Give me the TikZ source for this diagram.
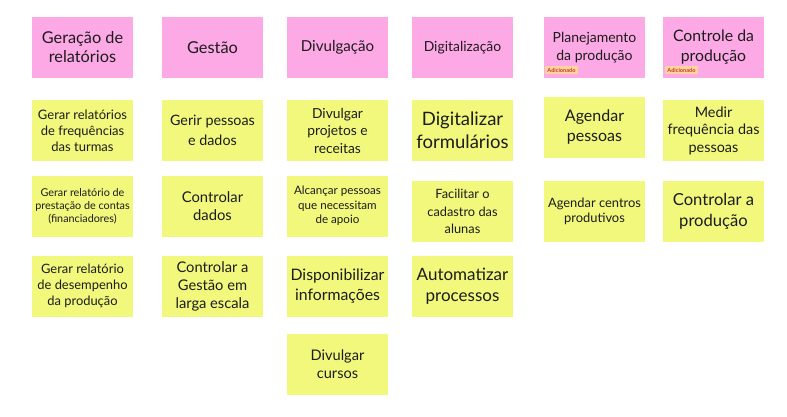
\documentclass[tikz,border=0pt]{standalone}
\usepackage{fontspec}
\setmainfont{Lato}
\definecolor{notepink}{HTML}{FDA9E6}
\definecolor{noteyel}{HTML}{F1F87C}
\definecolor{notetext}{HTML}{1C1C1C}
\definecolor{tagbg}{HTML}{FFD3A0}
\definecolor{tagtext}{HTML}{C8402A}
\newcommand{\fs}[2]{\fontsize{#1}{#2}\selectfont}
\tikzset{
  note/.style={rectangle, minimum width=101pt, minimum height=61pt, inner sep=1pt, align=center, text=notetext},
  pinknote/.style={note, fill=notepink},
  yelnote/.style={note, fill=noteyel},
  tag/.style={rectangle, fill=tagbg, text=tagtext, rounded corners=1pt, inner sep=0.8pt, minimum width=33pt, minimum height=8pt, font=\fs{5.6}{6}\bfseries}
}
\begin{document}
\begin{tikzpicture}[x=1pt,y=1pt]
\useasboundingbox[fill=white] (0,0) rectangle (787,-416);
% header notes
\node[pinknote, font=\fs{16.3}{19}] (h1) at (82.5,-47.5) {Geração de\\relatórios};
\node[pinknote, font=\fs{16.4}{19}] (h2) at (212.5,-47.5) {Gestão};
\node[pinknote, font=\fs{15.1}{18}] (h3) at (337.5,-47.5) {Divulgação};
\node[pinknote, font=\fs{13.9}{16}] (h4) at (462.5,-47.5) {Digitalização};
\node[pinknote, font=\fs{14}{18}] (h5) at (594.5,-47.5) {Planejamento\\da produção};
\node[pinknote, font=\fs{15.8}{20}] (h6) at (713.5,-47.5) {Controle da\\produção};
\node[tag] (t5) at (561.5,-70) {Adicionado};
\node[tag] (t6) at (681.5,-70) {Adicionado};
% row 1
\node[yelnote, font=\fs{13}{16}] (a1) at (82.5,-130.5) {Gerar relatórios\\de frequências\\das turmas};
\node[yelnote, font=\fs{14.3}{20}] (a2) at (212.5,-130.5) {Gerir pessoas\\e dados};
\node[yelnote, font=\fs{13.8}{17.5}] (a3) at (337.5,-130.5) {Divulgar\\projetos e\\receitas};
\node[yelnote, font=\fs{18.5}{23}] (a4) at (462.5,-130.5) {Digitalizar\\formulários};
\node[yelnote, font=\fs{16}{20}] (a5) at (594.5,-127) {Agendar\\pessoas};
\node[yelnote, font=\fs{14.4}{17.5}] (a6) at (713.5,-130.5) {Medir\\frequência das\\pessoas};
% row 2
\node[yelnote, font=\fs{10.8}{13}] (b1) at (82.5,-206) {Gerar relatório de\\prestação de contas\\(financiadores)};
\node[yelnote, font=\fs{14.8}{18}] (b2) at (212.5,-206) {Controlar\\dados};
\node[yelnote, font=\fs{11.6}{14.5}] (b3) at (337.5,-206) {Alcançar pessoas\\que necessitam\\de apoio};
\node[yelnote, font=\fs{12.8}{17.5}] (b4) at (462.5,-211.5) {Facilitar o\\cadastro das\\alunas};
\node[yelnote, font=\fs{12.9}{15}] (b5) at (594.5,-211.5) {Agendar centros\\produtivos};
\node[yelnote, font=\fs{16.6}{21}] (b6) at (713.5,-211.5) {Controlar a\\produção};
% row 3
\node[yelnote, font=\fs{12.9}{16}] (c1) at (82.5,-286) {Gerar relatório\\de desempenho\\da produção};
\node[yelnote, font=\fs{14.7}{18}] (c2) at (212.5,-286) {Controlar a\\Gestão em\\larga escala};
\node[yelnote, font=\fs{15.8}{20}] (c3) at (337.5,-286) {Disponibilizar\\informações};
\node[yelnote, font=\fs{17}{21}] (c4) at (462.5,-286) {Automatizar\\processos};
% row 4
\node[yelnote, font=\fs{14.6}{18}] (d3) at (337.5,-364) {Divulgar\\cursos};
\end{tikzpicture}
\end{document}
